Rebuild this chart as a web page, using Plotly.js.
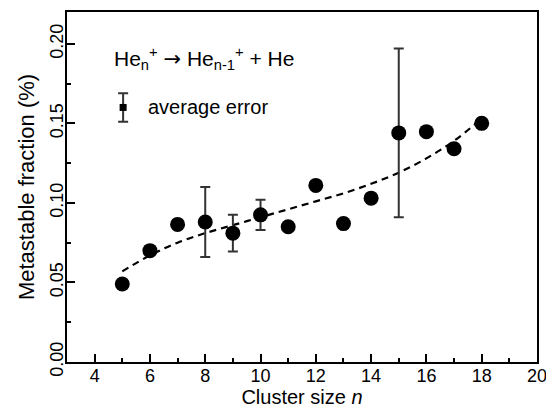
<!DOCTYPE html>
<html>
<head>
<meta charset="utf-8">
<script src="https://cdn.plot.ly/plotly-3.0.1.min.js"></script>
<style>html,body{margin:0;padding:0;background:#fff;}#chart{width:546px;height:409px;}</style>
</head>
<body>
<div id="chart"></div>
<script>
// Data
const clusterSize = [5, 6, 7, 8, 9, 10, 11, 12, 13, 14, 15, 16, 17, 18];
const metastableFraction = [0.049, 0.070, 0.0865, 0.088, 0.081, 0.0925, 0.085, 0.111, 0.087, 0.103, 0.144, 0.1448, 0.134, 0.150];
// error bars only on some points (null = no bar)
const errorValues = [null, null, null, 0.022, 0.0115, 0.0095, null, null, null, null, 0.053, null, null, null];

// dashed fit curve, read at integer n
const fitX = [5, 6, 7, 8, 9, 10, 11, 12, 13, 14, 15, 16, 17, 18];
const fitY = [0.057, 0.067, 0.075, 0.081, 0.086, 0.091, 0.096, 0.101, 0.106, 0.112, 0.119, 0.128, 0.139, 0.153];

// "average error" key marker
const avgErrX = [5.03];
const avgErrY = [0.160];
const avgErrVal = [0.009];

const yTicks = [0, 0.05, 0.10, 0.15, 0.20];
const yTickText = ['0.00', '0.05', '0.10', '0.15', '0.20'];
const xTicks = [4, 6, 8, 10, 12, 14, 16, 18, 20];

const FONT = 'Liberation Sans, Arial, Helvetica, sans-serif';

const errVisibleX = [], errVisibleY = [], errVisibleE = [];
clusterSize.forEach((n, i) => {
  if (errorValues[i] !== null) { errVisibleX.push(n); errVisibleY.push(metastableFraction[i]); errVisibleE.push(errorValues[i]); }
});

const traces = [
  {
    x: fitX, y: fitY, type: 'scatter', mode: 'lines',
    line: {color: '#000', width: 2.2, dash: '7px,5px', shape: 'spline', smoothing: 1},
    hoverinfo: 'skip', showlegend: false
  },
  {
    x: errVisibleX, y: errVisibleY, type: 'scatter', mode: 'markers',
    marker: {size: 1, color: 'rgba(0,0,0,0)'},
    error_y: {type: 'data', array: errVisibleE, visible: true, color: '#333', thickness: 2, width: 5},
    showlegend: false
  },
  {
    x: clusterSize, y: metastableFraction, type: 'scatter', mode: 'markers',
    marker: {size: 15, color: '#000', symbol: 'circle'},
    showlegend: false
  },
  {
    x: avgErrX, y: avgErrY, type: 'scatter', mode: 'markers',
    marker: {size: 7, color: '#000', symbol: 'square'},
    error_y: {type: 'data', array: avgErrVal, visible: true, color: '#333', thickness: 2, width: 5},
    showlegend: false
  }
];

const axisCommon = {
  showline: true, linecolor: '#000', linewidth: 2, mirror: true,
  ticks: 'inside', ticklen: 8, tickwidth: 2, tickcolor: '#000',
  showgrid: false, zeroline: false,
  ticklabeloverflow: 'allow',
  tickfont: {family: FONT, size: 18, color: '#000'}
};

const layout = {
  width: 546, height: 409,
  margin: {l: 67, r: 9, t: 12, b: 47},
  paper_bgcolor: '#fff', plot_bgcolor: '#fff',
  showlegend: false,
  xaxis: Object.assign({}, axisCommon, {
    range: [3, 20], tickmode: 'array', tickvals: xTicks,
    ticklabelstandoff: -4,
    minor: {ticks: 'inside', ticklen: 4, tickwidth: 2, tickcolor: '#000', dtick: 1, tick0: 0, showgrid: false},
    title: {text: 'Cluster size <i>n</i>', font: {family: FONT, size: 20, color: '#000'}, standoff: 3}
  }),
  yaxis: Object.assign({}, axisCommon, {
    range: [0, 0.22], tickmode: 'array', tickvals: yTicks, ticktext: yTickText,
    tickangle: -90,
    ticklabelstandoff: -5,
    minor: {ticks: 'inside', ticklen: 4, tickwidth: 2, tickcolor: '#000', dtick: 0.025, tick0: 0, showgrid: false},
    title: {text: 'Metastable fraction (%)', font: {family: FONT, size: 22, color: '#000'}, standoff: 6}
  }),
  annotations: [
    {
      x: 4.63, y: 0.191, xref: 'x', yref: 'y', xanchor: 'left', yanchor: 'middle',
      text: 'He<sub>n</sub><sup>+</sup> <span style="font-family:DejaVu Sans">\u2192</span> He<sub>n-1</sub><sup>+</sup> + He',
      showarrow: false, font: {family: FONT, size: 21, color: '#000'}
    },
    {
      x: 5.86, y: 0.160, xref: 'x', yref: 'y', xanchor: 'left', yanchor: 'middle',
      text: 'average error',
      showarrow: false, font: {family: FONT, size: 20, color: '#000'}
    }
  ]
};

Plotly.newPlot('chart', traces, layout, {displayModeBar: false, staticPlot: true});
</script>
</body>
</html>
